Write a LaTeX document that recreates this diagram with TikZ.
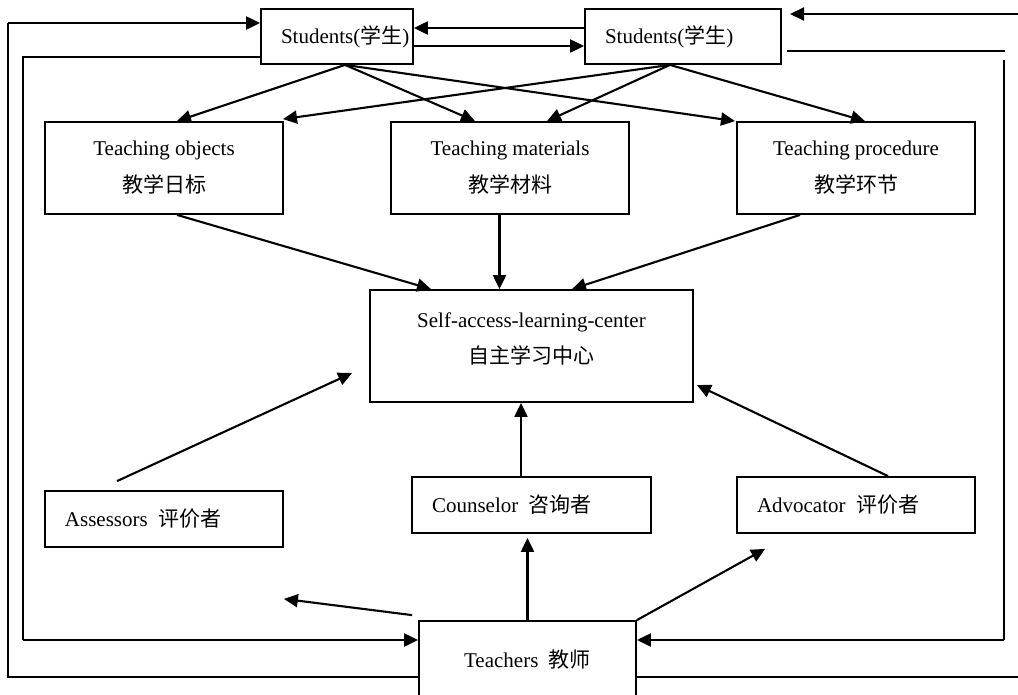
\documentclass[tikz,border=0pt]{standalone}
\usepackage{fontspec}
\setmainfont{Liberation Serif}
\newfontfamily\cjk{Noto Sans CJK SC}
\usetikzlibrary{arrows.meta,calc}
\newcommand\zh[1]{{\cjk #1}}
\begin{document}
\begin{tikzpicture}[x=1pt,y=-1pt,
  box/.style={draw, line width=1.8pt, inner sep=0pt, font=\fontsize{21}{37}\selectfont},
  lbox/.style={box, align=left, inner xsep=0pt, text width=#1},
  cbox/.style={box, align=center, minimum width=238pt, minimum height=92pt},
  arr/.style={line width=2.1pt, -{Triangle[length=14pt,width=13pt]}},
  thinln/.style={line width=1.3pt},
  txt/.style={inner sep=0pt, align=center, font=\fontsize{21}{36}\selectfont}]
\clip (0,0) rectangle (1018,694);
\fill[white] (0,0) rectangle (1018,694);

% nodes
\node[lbox=152pt, minimum height=55pt] (s1) at (337,36.5) {\hspace*{20pt}Students(\zh{学生})};
\node[lbox=196pt, minimum height=55pt] (s2) at (683,36.5) {\hspace*{20pt}Students(\zh{学生})};
\node[cbox] (obj) at (164,168) {Teaching objects\\\zh{教学日标}};
\node[cbox] (mat) at (510,168) {Teaching materials\\\zh{教学材料}};
\node[cbox] (proc) at (856,168) {Teaching procedure\\\zh{教学环节}};
\node[box, minimum width=323pt, minimum height=112pt] (salc) at (531.5,346) {};
\node[txt] (salct) at (531.5,339) {Self-access-learning-center\\\zh{自主学习中心}};
\node[lbox=238pt, minimum height=56pt] (ass) at (164,519) {\hspace*{20pt}Assessors\hspace{0.5em}\zh{评价者}};
\node[lbox=239pt, minimum height=56pt] (cou) at (531.5,505) {\hspace*{20pt}Counselor\hspace{0.5em}\zh{咨询者}};
\node[lbox=238pt, minimum height=56pt] (adv) at (856,505) {\hspace*{20pt}Advocator\hspace{0.5em}\zh{评价者}};
\node[box, align=center, minimum width=217pt, minimum height=78pt] (tea) at (527.5,660) {Teachers\hspace{0.5em}\zh{教师}};

% outer left loop: Teachers -> Students
\coordinate (ol1) at (8,677);
\coordinate (ol2) at (8,23);
\draw[thinln] ([yshift=-17pt]tea.west) -- (ol1) -- (ol2);
\draw[arr] (ol2) -- ([yshift=13.5pt]s1.west);
% inner left loop: Students -> Teachers
\coordinate (il1) at (23,57);
\coordinate (il2) at (23,640);
\draw[thinln] ([yshift=-20.5pt]s1.west) -- (il1) -- (il2);
\draw[arr] (il2) -- ([yshift=20pt]tea.west);

% between students
\draw[arr] ([yshift=8.5pt]s2.west) -- ([yshift=8.5pt]s1.east);
\draw[arr] ([yshift=-9.5pt]s1.east) -- ([yshift=-9.5pt]s2.west);

% right side
\coordinate (rt1) at (1018,14);
\coordinate (rt2) at (790,14);
\draw[arr] (rt1) -- (rt2);
\coordinate (rl1) at (787,51);
\coordinate (rl2) at (1005,51);
\draw[thinln] (rl1) -- (rl2);
\coordinate (rv1) at (1004,60);
\coordinate (rv2) at (1004,640);
\draw[thinln] (rv1) -- (rv2);
\draw[arr] (rv2) -- ([yshift=20pt]tea.east);
\coordinate (rb) at (1018,677);
\draw[thinln] ([yshift=-17pt]tea.east) -- (rb);

% students -> teaching boxes
\draw[arr] ([xshift=8pt]s1.south) -- ([xshift=13pt]obj.north);
\draw[arr] ([xshift=8pt]s1.south) -- ([xshift=-35pt]mat.north);
\draw[arr] ([xshift=8pt]s1.south) -- ([xshift=-121pt]proc.north);
\draw[arr] ([xshift=-13pt]s2.south) -- ([xshift=119pt,yshift=2pt]obj.north);
\draw[arr] ([xshift=-13pt]s2.south) -- ([xshift=37pt]mat.north);
\draw[arr] ([xshift=-13pt]s2.south) -- ([xshift=9pt]proc.north);

% teaching boxes -> SALC
\draw[arr] ([xshift=13pt]obj.south) -- ([xshift=-100.5pt]salc.north);
\draw[arr] ([xshift=-10.5pt]mat.south) -- ([xshift=-32pt]salc.north);
\draw[arr] ([xshift=-56pt]proc.south) -- ([xshift=40.5pt]salc.north);

% roles -> SALC
\draw[arr] ([xshift=-47pt,yshift=9pt]ass.north) -- ([xshift=-17pt,yshift=-27pt]salc.west);
\draw[arr] ([xshift=-10.5pt]cou.north) -- ([xshift=-10.5pt]salc.south);
\draw[arr] ([xshift=32pt]adv.north) -- ([xshift=3pt,yshift=-39pt]salc.east);

% teachers -> roles
\draw[arr] (tea.north) -- ([xshift=-4pt,yshift=-4pt]cou.south);
\draw[arr] (tea.north east) -- ([xshift=29pt,yshift=-15pt]adv.south west);
\draw[arr] ([xshift=-6pt,yshift=5pt]tea.north west) -- ([yshift=-51pt]ass.south east);
\end{tikzpicture}
\end{document}
